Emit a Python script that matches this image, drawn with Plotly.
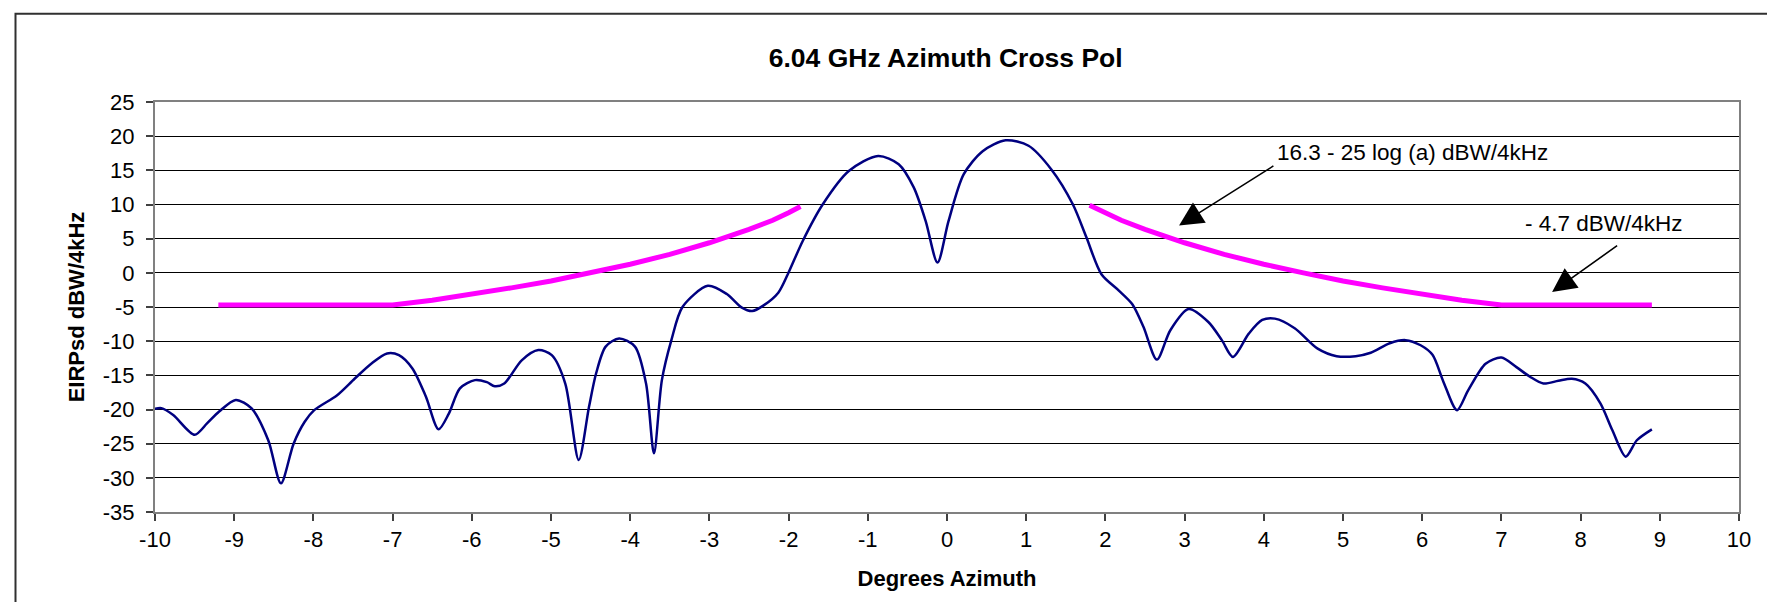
import plotly.graph_objects as go

az_deg = [-10, -9.92, -9.77, -9.5, -9.34, -9.19, -8.98, -8.78, -8.57, -8.41,
          -8.25, -8.11, -7.99, -7.7, -7.48, -7.27, -7.07, -6.92, -6.75, -6.58,
          -6.42, -6.29, -6.15, -5.96, -5.81, -5.71, -5.59, -5.37, -5.16, -4.99,
          -4.82, -4.65, -4.52, -4.43, -4.31, -4.14, -3.94, -3.80, -3.70, -3.60,
          -3.48, -3.34, -3.02, -2.78, -2.59, -2.46, -2.32, -2.13, -2.01, -1.82,
          -1.57, -1.24, -0.87, -0.61, -0.42, -0.27, -0.12, 0.02, 0.21, 0.45,
          0.74, 1.03, 1.32, 1.59, 1.76, 1.95, 2.17, 2.34, 2.48, 2.65,
          2.82, 3.05, 3.30, 3.47, 3.61, 3.81, 3.98, 4.14, 4.39, 4.68,
          4.92, 5.16, 5.35, 5.59, 5.79, 5.98, 6.13, 6.27, 6.44, 6.58,
          6.80, 7.0, 7.19, 7.36, 7.53, 7.72, 7.89, 8.06, 8.25, 8.40,
          8.57, 8.71, 8.90]
eirp_dbw = [-19.9, -19.8, -20.8, -23.7, -22.0, -20.3, -18.6, -19.85, -24.5, -30.8,
            -25.0, -21.8, -20.1, -17.9, -15.5, -13.3, -11.8, -12.05, -14.0, -18.1,
            -22.9, -20.6, -16.9, -15.7, -16.0, -16.6, -16.2, -12.8, -11.3, -12.05,
            -16.2, -27.4, -19.6, -14.7, -10.8, -9.6, -10.8, -16.2, -26.4, -15.7,
            -9.85, -5.0, -1.9, -3.1, -5.1, -5.6, -4.8, -2.9, -0.2, 4.7,
            10.0, 14.9, 17.1, 15.9, 12.5, 7.6, 1.5, 7.6, 14.4, 17.8,
            19.4, 18.6, 15.1, 10.0, 5.2, -0.2, -2.6, -4.6, -7.9, -12.7,
            -8.4, -5.3, -7.2, -9.85, -12.3, -8.9, -6.9, -6.7, -8.1, -11.1,
            -12.2, -12.2, -11.7, -10.3, -9.85, -10.6, -12.0, -16.0, -20.1, -17.2,
            -13.3, -12.4, -13.8, -15.2, -16.2, -15.8, -15.5, -16.2, -19.1, -23.0,
            -26.9, -24.5, -22.9]

# Mask (limit) lines
mask_left_x = [-9.2, -7.0, -6.5, -6.0, -5.5, -5.0, -4.5, -4.0, -3.5, -3.0,
               -2.5, -2.2, -2.0, -1.85]
mask_left_y = [-4.7, -4.7, -4.0, -3.15, -2.2, -1.2, 0.0, 1.25, 2.7, 4.4,
               6.35, 7.7, 8.8, 9.7]
mask_right_x = [1.8, 2.0, 2.2, 2.5, 3.0, 3.5, 4.0, 4.5, 5.0, 5.5,
                6.0, 6.5, 7.0, 8.9]
mask_right_y = [9.9, 8.8, 7.7, 6.35, 4.4, 2.7, 1.25, 0.0, -1.2, -2.2,
                -3.15, -4.0, -4.7, -4.7]

x_ticks = list(range(-10, 11))
y_ticks = list(range(-35, 26, 5))

FONT = "Liberation Sans, Arial, sans-serif"

fig = go.Figure()
fig.add_trace(go.Scatter(x=mask_left_x, y=mask_left_y, mode="lines",
                         line=dict(color="#FF00FF", width=5),
                         showlegend=False, hoverinfo="skip"))
fig.add_trace(go.Scatter(x=mask_right_x, y=mask_right_y, mode="lines",
                         line=dict(color="#FF00FF", width=5),
                         showlegend=False, hoverinfo="skip"))
fig.add_trace(go.Scatter(x=az_deg, y=eirp_dbw, mode="lines",
                         line=dict(color="#000080", width=2.5, shape="spline", smoothing=0.8),
                         showlegend=False))

fig.update_layout(
    width=1775, height=602,
    paper_bgcolor="white", plot_bgcolor="white",
    margin=dict(l=147, r=44, t=94, b=98),
    font=dict(family=FONT, color="black", size=22),
    title=dict(text="<b>6.04 GHz Azimuth Cross Pol</b>", x=0.5283, xanchor="center",
               y=1 - 50 / 602, yanchor="middle",
               font=dict(family=FONT, size=26.5, color="black")),
    xaxis=dict(range=[-10, 10], tickvals=x_ticks, ticktext=[str(v) for v in x_ticks],
               showgrid=False, zeroline=False,
               ticks="outside", ticklen=7, tickwidth=1.5, tickcolor="#404040",
               showline=True, linecolor="#808080", linewidth=2, mirror=True,
               tickfont=dict(size=22, family=FONT),
               title=dict(text="<b>Degrees Azimuth</b>", standoff=19,
                          font=dict(size=22, family=FONT))),
    yaxis=dict(range=[-35, 25], tickvals=y_ticks, ticktext=[str(v) for v in y_ticks],
               showgrid=True, gridcolor="#000000", gridwidth=1, zeroline=False,
               ticks="outside", ticklen=7, tickwidth=1.5, tickcolor="#404040",
               ticklabelstandoff=7,
               showline=True, linecolor="#808080", linewidth=2, mirror=True,
               tickfont=dict(size=22, family=FONT),
               title=dict(text="<b>EIRPsd dBW/4kHz</b>", standoff=12,
                          font=dict(size=22, family=FONT))),
)

# outer chart border (only top and left visible in reference)
fig.add_shape(type="rect", xref="paper", yref="paper",
              x0=(7.5 - 147) / 1584, x1=1.2, y0=-0.5, y1=(504 - 5.7) / 410,
              line=dict(color="#303030", width=2), layer="above")

# Annotations with arrows
fig.add_annotation(x=5.88, y=17.58, xref="x", yref="y", showarrow=False,
                   text="16.3 - 25 log (a) dBW/4kHz", font=dict(size=22.5, family=FONT))
fig.add_annotation(x=2.93, y=6.94, ax=4.14, ay=15.78, xref="x", yref="y",
                   axref="x", ayref="y", text="", showarrow=True,
                   arrowhead=2, arrowsize=3, arrowwidth=1.6, arrowcolor="black")
fig.add_annotation(x=8.30, y=7.16, xref="x", yref="y", showarrow=False,
                   text="- 4.7 dBW/4kHz", font=dict(size=22.5, family=FONT))
fig.add_annotation(x=7.64, y=-2.8, ax=8.48, ay=4.13, xref="x", yref="y",
                   axref="x", ayref="y", text="", showarrow=True,
                   arrowhead=2, arrowsize=3, arrowwidth=1.6, arrowcolor="black")

fig.write_html("out.html")
